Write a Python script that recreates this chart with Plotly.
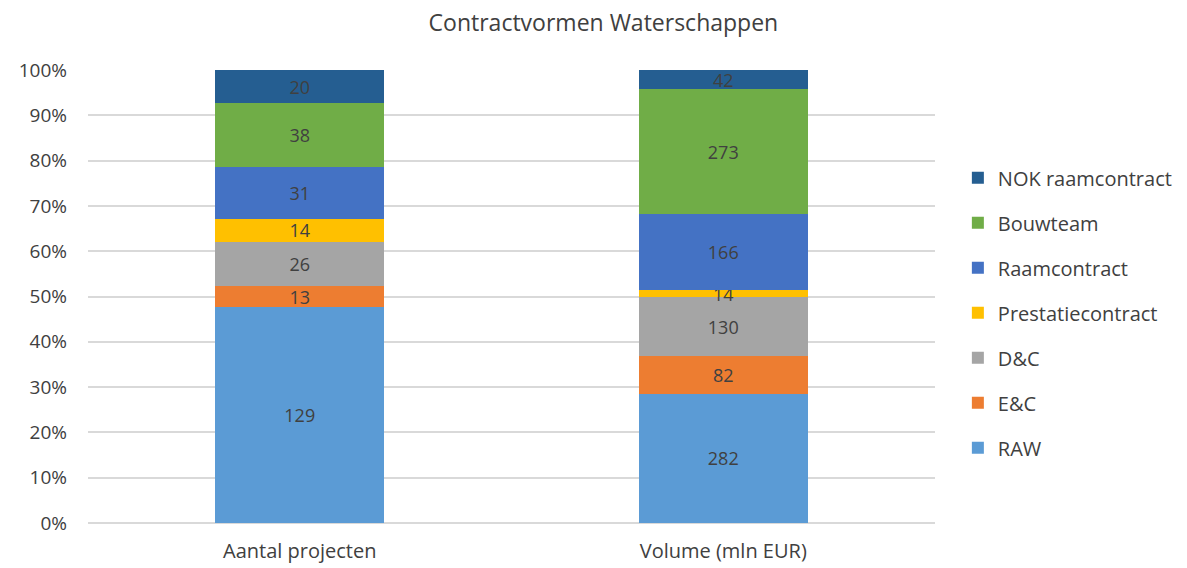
import plotly.graph_objects as go

categories = ["Aantal projecten", "Volume (mln EUR)"]
series_names = ["RAW", "E&C", "D&C", "Prestatiecontract", "Raamcontract", "Bouwteam", "NOK raamcontract"]
raw = [129, 282]
ec = [13, 82]
dc = [26, 130]
prestatie = [14, 14]
raam = [31, 166]
bouwteam = [38, 273]
nok = [20, 42]
colors = ["#5B9BD5", "#ED7D31", "#A5A5A5", "#FFC000", "#4472C4", "#70AD47", "#255E91"]

values = [raw, ec, dc, prestatie, raam, bouwteam, nok]
font = "Open Sans"
txt = "#404040"

fig = go.Figure()
for i, (name, vals, col) in enumerate(zip(series_names, values, colors)):
    fig.add_trace(go.Bar(
        x=categories, y=vals, name=name, marker_color=col, marker_line_width=0,
        text=[str(v) for v in vals], textposition="inside", insidetextanchor="middle",
        textangle=0, textfont=dict(family=font, size=18, color=txt), constraintext="none",
        legendgroup=name, legendrank=1000 - i, cliponaxis=False,
    ))

fig.update_layout(
    barmode="stack", barnorm="percent", bargap=0.6,
    width=1179, height=560,
    margin=dict(l=80, r=252, t=62, b=45, autoexpand=False),
    paper_bgcolor="white", plot_bgcolor="white",
    title=dict(text="Contractvormen Waterschappen", x=0.505, xanchor="center", y=1 - 15 / 560, yanchor="middle",
               font=dict(family=font, size=23, color=txt)),
    font=dict(family=font, size=18, color=txt),
    uniformtext=dict(minsize=18, mode="show"),
    legend=dict(x=1.027, xanchor="left", y=0.464, yanchor="middle",
                traceorder="grouped", tracegroupgap=16,
                font=dict(family=font, size=20, color=txt), itemwidth=30),
    yaxis=dict(range=[0, 100], dtick=10, ticksuffix="%", showgrid=True, gridcolor="#D9D9D9",
               gridwidth=1.5, zeroline=True, zerolinecolor="#D9D9D9", zerolinewidth=1.5,
               tickfont=dict(family=font, size=19, color=txt), ticklabelstandoff=20,
               automargin=False, fixedrange=True),
    xaxis=dict(tickfont=dict(family=font, size=20, color=txt), showline=False, ticklabelstandoff=14,
               automargin=False),
)

fig.write_html("out.html")
